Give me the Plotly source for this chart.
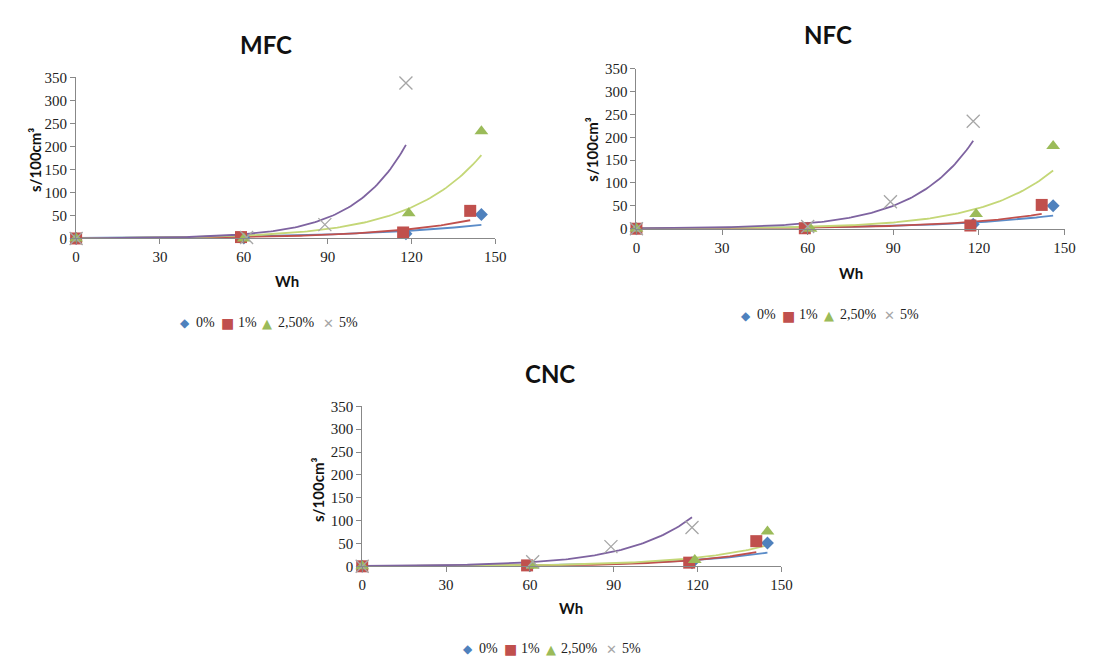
import numpy as np
import plotly.graph_objects as go

# ---------------- data ----------------
series_names = ["0%", "1%", "2,50%", "5%"]
panel_titles = ["MFC", "NFC", "CNC"]
x_ticks = [0, 30, 60, 90, 120, 150]
y_ticks = [0, 50, 100, 150, 200, 250, 300, 350]

# MFC
mfc_x_0 = [0, 60, 118, 145]
mfc_y_0 = [0, 1, 10, 52]
mfc_x_1 = [0, 59, 117, 141]
mfc_y_1 = [0, 3, 13, 60]
mfc_x_25 = [0, 60, 119, 145]
mfc_y_25 = [0, 0, 55, 233]
mfc_x_5 = [0, 61, 89, 118]
mfc_y_5 = [0, 2, 30, 338]

# NFC
nfc_x_0 = [0, 60, 118, 146]
nfc_y_0 = [0, 1, 10, 50]
nfc_x_1 = [0, 59, 117, 142]
nfc_y_1 = [0, 1, 7, 52]
nfc_x_25 = [0, 61, 119, 146]
nfc_y_25 = [0, 0, 32, 181]
nfc_x_5 = [0, 60, 89, 118]
nfc_y_5 = [0, 5, 59, 235]

# CNC
cnc_x_0 = [0, 60, 118, 145]
cnc_y_0 = [0, 1, 8, 51]
cnc_x_1 = [0, 59, 117, 141]
cnc_y_1 = [0, 2, 8, 55]
cnc_x_25 = [0, 61, 119, 145]
cnc_y_25 = [0, 1, 14, 76]
cnc_x_5 = [0, 61, 89, 118]
cnc_y_5 = [0, 10, 43, 85]

# exponential trendline coefficients y = a * exp(b x) (as shown in the chart)
mfc_trend_a = [1.15, 0.48, 0.59, 0.36]
mfc_trend_b = [0.0224, 0.0313, 0.0395, 0.0537]
nfc_trend_a = [0.52, 0.345, 0.37, 0.667]
nfc_trend_b = [0.0275, 0.032, 0.040, 0.048]
cnc_trend_a = [0.365, 0.155, 0.286, 0.67]
cnc_trend_b = [0.0304, 0.0376, 0.035, 0.043]

# ---------------- styles ----------------
marker_colors = ["#4F81BD", "#C0504D", "#9BBB59", "#A6A6A6"]
marker_symbols = ["diamond", "square", "triangle-up", "x-thin"]
marker_sizes = [10, 12, 12, 13]
trend_colors = ["#5B8CC8", "#C0504D", "#C4D777", "#7E63A0"]
legend_glyphs = ["\u25C6", "\u25A0", "\u25B2", "\u2715"]
legend_glyph_sizes = [12, 14, 13, 13]

panels = [
    (panel_titles[0], [(mfc_x_0, mfc_y_0), (mfc_x_1, mfc_y_1), (mfc_x_25, mfc_y_25), (mfc_x_5, mfc_y_5)],
     mfc_trend_a, mfc_trend_b),
    (panel_titles[1], [(nfc_x_0, nfc_y_0), (nfc_x_1, nfc_y_1), (nfc_x_25, nfc_y_25), (nfc_x_5, nfc_y_5)],
     nfc_trend_a, nfc_trend_b),
    (panel_titles[2], [(cnc_x_0, cnc_y_0), (cnc_x_1, cnc_y_1), (cnc_x_25, cnc_y_25), (cnc_x_5, cnc_y_5)],
     cnc_trend_a, cnc_trend_b),
]

W, H = 1108, 659
# pixel boxes of plot areas: (x_left, x_right, y_top(350), y_bottom(0))
boxes = [(65, 490, 63, 228), (633, 1067, 54, 218), (355, 780, 400, 564)]
title_pos = [(257, 29), (827, 19), (545, 366)]
xtitle_pos = [(279, 272), (851, 263), (567, 607)]
ytitle_pos = [(24, 147), (588, 137), (310, 485)]
legend_center = [(259, 314), (828, 306), (546, 648)]
legend_sym_off = [-84, -41, 0, 62]
legend_txt_off = [-75, -32, 9, 70]

serif = "Liberation Serif, Times New Roman, serif"
sans = "Lato, Carlito, sans-serif"

fig = go.Figure()
layout = dict(
    width=W, height=H,
    margin=dict(l=0, r=0, t=0, b=0),
    paper_bgcolor="white", plot_bgcolor="white",
    showlegend=False,
    annotations=[],
)

for p, (title, data, ta, tb) in enumerate(panels):
    xs = "x" if p == 0 else f"x{p+1}"
    ys = "y" if p == 0 else f"y{p+1}"
    # trendlines first (under markers)
    for s in range(4):
        xd = data[s][0]
        xx = np.linspace(0, max(xd), 150)
        yy = ta[s] * np.exp(tb[s] * xx)
        fig.add_trace(go.Scatter(
            x=xx, y=yy, mode="lines", xaxis=xs, yaxis=ys,
            line=dict(color=trend_colors[s], width=1.8),
            showlegend=False, hoverinfo="skip",
        ))
    for s in range(4):
        xd, yd = data[s]
        mk = dict(color=marker_colors[s], symbol=marker_symbols[s], size=marker_sizes[s])
        if s == 3:
            mk["line"] = dict(color=marker_colors[s], width=1.3)
        fig.add_trace(go.Scatter(
            x=xd, y=yd, mode="markers", xaxis=xs, yaxis=ys,
            marker=mk, name=series_names[s], showlegend=False, cliponaxis=False,
        ))

    xl, xr, yt, yb = boxes[p]
    axis_common = dict(
        showgrid=False, zeroline=False, showline=True, linecolor="#888888", linewidth=1,
        ticks="outside", ticklen=5, tickcolor="#888888",
        tickfont=dict(family=serif, size=15, color="#222222"),
    )
    layout["xaxis" if p == 0 else f"xaxis{p+1}"] = dict(
        axis_common, domain=[xl / W, xr / W], anchor=ys, range=[0, 150],
        tickvals=x_ticks, ticktext=[str(v) for v in x_ticks],
    )
    layout["yaxis" if p == 0 else f"yaxis{p+1}"] = dict(
        axis_common, domain=[1 - yb / H, 1 - yt / H], anchor=xs, range=[0, 350],
        tickvals=y_ticks, ticktext=[str(v) for v in y_ticks],
    )
    tx, ty = title_pos[p]
    layout["annotations"].append(dict(
        text=f"<b>{title}</b>", x=tx / W, y=1 - ty / H, xref="paper", yref="paper",
        showarrow=False, xanchor="center", yanchor="middle",
        font=dict(family=sans, size=24, color="#111111"),
    ))
    wx, wy = xtitle_pos[p]
    layout["annotations"].append(dict(
        text="<b>Wh</b>", x=wx / W, y=1 - wy / H, xref="paper", yref="paper",
        showarrow=False, xanchor="center", yanchor="middle",
        font=dict(family=sans, size=15, color="#111111"),
    ))
    sx, sy = ytitle_pos[p]
    layout["annotations"].append(dict(
        text="<b>s/100cm\u00b3</b>", x=sx / W, y=1 - sy / H, xref="paper", yref="paper",
        showarrow=False, xanchor="center", yanchor="middle", textangle=-90,
        font=dict(family=sans, size=15, color="#111111"),
    ))
    # legend (symbol + label per series)
    lx, ly = legend_center[p]
    for s in range(4):
        layout["annotations"].append(dict(
            text=legend_glyphs[s], x=(lx + legend_sym_off[s]) / W, y=1 - (ly + 1) / H,
            xref="paper", yref="paper", showarrow=False, xanchor="center", yanchor="middle",
            font=dict(family="DejaVu Sans", size=legend_glyph_sizes[s], color=marker_colors[s]),
        ))
        layout["annotations"].append(dict(
            text=series_names[s], x=(lx + legend_txt_off[s]) / W, y=1 - ly / H,
            xref="paper", yref="paper", showarrow=False, xanchor="left", yanchor="middle",
            font=dict(family=serif, size=14, color="#222222"),
        ))

fig.update_layout(**layout)
fig.write_html("out.html")
